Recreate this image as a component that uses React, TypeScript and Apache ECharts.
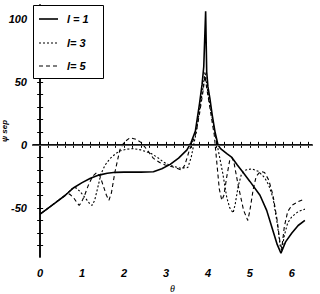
import React, { useEffect, useRef } from "react";
import * as echarts from "echarts";

// l = 1 (solid)
const thetaL1 = [0, 0.2, 0.4, 0.6, 0.8, 1.0, 1.2, 1.4, 1.6, 1.8, 2.0, 2.4, 2.7, 2.9, 3.1, 3.3, 3.5, 3.6, 3.7, 3.8, 3.86, 3.9, 3.945, 3.97, 4.0, 4.05, 4.1, 4.17, 4.24, 4.3, 4.45, 4.57, 4.7, 4.83, 5.0, 5.24, 5.4, 5.52, 5.65, 5.74, 5.85, 6.0, 6.15, 6.31];
const psiL1 = [-55, -50, -45, -40, -34, -30, -26.5, -24, -22.5, -21.8, -21.6, -21.6, -21.4, -19, -15.5, -10.5, -4, 2, 11, 33, 48, 62, 106, 58, 46, 36, 24, 10, 0, -3, -7, -10, -16, -21.6, -29, -40, -52, -65, -79, -86, -77, -70, -64, -60];

// l = 3 (dotted)
const thetaL3 = [0, 0.2, 0.4, 0.6, 0.75, 0.85, 0.95, 1.05, 1.12, 1.2, 1.24, 1.3, 1.38, 1.45, 1.55, 1.67, 1.8, 1.9, 2.05, 2.22, 2.4, 2.62, 2.8, 2.94, 3.05, 3.17, 3.35, 3.52, 3.6, 3.66, 3.72, 3.8, 3.88, 3.93, 3.97, 4.03, 4.1, 4.17, 4.25, 4.35, 4.45, 4.52, 4.6, 4.65, 4.72, 4.8, 4.9, 5.05, 5.2, 5.35, 5.45, 5.55, 5.65, 5.72, 5.76, 5.82, 5.9, 6.0, 6.15, 6.31];
const psiL3 = [-55, -50, -45, -40, -35, -34, -37, -41, -44, -47.5, -48, -44, -33, -23, -16, -10.7, -7, -4.8, -3.5, -3, -4, -6.4, -10, -13.6, -15.5, -17, -18.5, -18, -10, 0, 10, 28, 45, 58, 48, 35, 22, 8, -5, -22, -42, -50, -54, -47, -33, -23, -20, -19, -21, -26, -32, -42, -62, -80, -84, -72, -62, -57, -53, -51];

// l = 5 (dashed)
const thetaL5 = [0, 0.2, 0.4, 0.6, 0.7, 0.8, 0.88, 0.93, 0.98, 1.06, 1.15, 1.25, 1.35, 1.43, 1.5, 1.58, 1.64, 1.7, 1.78, 1.9, 2.0, 2.14, 2.28, 2.42, 2.55, 2.7, 2.85, 2.98, 3.1, 3.21, 3.37, 3.45, 3.55, 3.63, 3.72, 3.8, 3.88, 3.93, 3.97, 4.03, 4.1, 4.15, 4.2, 4.27, 4.33, 4.38, 4.45, 4.52, 4.57, 4.62, 4.72, 4.85, 4.95, 5.0, 5.08, 5.15, 5.25, 5.35, 5.45, 5.55, 5.65, 5.72, 5.76, 5.82, 5.9, 6.0, 6.15, 6.31];
const psiL5 = [-55, -50, -45, -40, -39, -42, -46, -48, -46, -40, -32, -25, -22, -25, -32, -40, -44, -38, -22, -4, 2, 5.6, 4.5, 1.6, -4, -10.7, -14, -16, -17, -18, -20, -16, -5, 2, 10, 25, 42, 55, 45, 33, 18, 8, -10, -35, -44, -40, -25, -12, -10, -14, -32, -52, -60, -52, -35, -25, -21, -22, -28, -40, -60, -78, -82, -65, -53, -48, -45, -43];

const xLabels = [0, 1, 2, 3, 4, 5, 6];
const yLabels = [-50, 0, 50, 100];
const seriesNames = ["l = 1", "l= 3", "l= 5"];

const pairs = (xs: number[], ys: number[]) => xs.map((x, i) => [x, ys[i]]);

export default function App() {
  const ref = useRef<HTMLDivElement>(null);
  useEffect(() => {
    document.body.style.margin = "0";
    const chart = echarts.init(ref.current!, null, { renderer: "svg" });
    const xTicks: number[] = [];
    for (let i = 0; i <= 32; i++) xTicks.push(Math.round(i * 0.2 * 10) / 10);
    const yTicks: number[] = [];
    for (let v = -80; v <= 110; v += 10) yTicks.push(v);
    const font = { fontFamily: "Liberation Sans", fontStyle: "italic" as const, fontWeight: "bold" as const, color: "#000" };
    const axisLine = { show: true, lineStyle: { color: "#000", width: 1.5 } };
    const xMin = -0.17, xMax = 6.48, yMin = -89, yMax = 111;
    const styles = [
      { width: 1.6, type: "solid" as any },
      { width: 1.1, type: [2, 2] as any },
      { width: 1.1, type: [4, 3] as any },
    ];
    const legendRows = [19, 43, 66];
    const legendGraphics: any[] = [
      { type: "rect", shape: { x: 33.5, y: 5.5, width: 70, height: 73 }, style: { fill: "#fff", stroke: "#000", lineWidth: 1 }, z: 10 },
    ];
    seriesNames.forEach((n, i) => {
      legendGraphics.push({
        type: "line", shape: { x1: 39, y1: legendRows[i], x2: 58, y2: legendRows[i] },
        style: { stroke: "#000", lineWidth: styles[i].width, lineDash: styles[i].type === "solid" ? null : styles[i].type }, z: 11,
      });
      legendGraphics.push({
        type: "text", x: 67, y: legendRows[i], z: 11,
        style: { text: n, fill: "#000", font: "italic bold 11px 'Liberation Sans'", textVerticalAlign: "middle", verticalAlign: "middle" },
      });
    });
    chart.setOption({
      animation: false,
      grid: { left: 33, right: 8, top: 5, bottom: 37, containLabel: false, outerBoundsMode: "none" },
      graphic: legendGraphics,
      xAxis: [
        {
          type: "value", min: xMin, max: xMax, position: "bottom",
          axisLine, splitLine: { show: false },
          axisTick: { inside: true, length: 3, customValues: xTicks, lineStyle: { color: "#000" } },
          axisLabel: { customValues: xLabels, ...font, fontSize: 11, margin: 10 },
          name: "θ", nameLocation: "middle", nameGap: 26, nameMoveOverlap: false,
          nameTextStyle: { fontFamily: "Liberation Serif", fontStyle: "italic", fontSize: 10, color: "#000" },
        },
        {
          type: "value", min: xMin, max: xMax, position: "top",
          axisLine, splitLine: { show: false },
          axisTick: { inside: true, length: 3, customValues: xTicks, lineStyle: { color: "#000" } },
          axisLabel: { show: false },
        },
      ],
      yAxis: [
        {
          type: "value", min: yMin, max: yMax, position: "left",
          axisLine, splitLine: { show: false },
          axisTick: { inside: true, length: 3, customValues: yTicks, lineStyle: { color: "#000" } },
          axisLabel: { customValues: yLabels, ...font, fontSize: 11, margin: 6 },
          name: "ψ sep", nameLocation: "middle", nameGap: 25, nameRotate: 90, nameMoveOverlap: false,
          nameTextStyle: { fontFamily: "Liberation Sans", fontStyle: "italic", fontWeight: "bold", fontSize: 8, color: "#000" },
        },
        {
          type: "value", min: yMin, max: yMax, position: "right",
          axisLine, splitLine: { show: false },
          axisTick: { inside: true, length: 3, customValues: yTicks, lineStyle: { color: "#000" } },
          axisLabel: { show: false },
        },
      ],
      series: [
        {
          name: seriesNames[0], type: "line", data: pairs(thetaL1, psiL1), showSymbol: false, symbol: "none",
          lineStyle: { color: "#000", width: styles[0].width }, z: 3,
          markLine: {
            silent: true, symbol: "none", label: { show: false },
            lineStyle: { color: "#555", width: 1, type: "solid" },
            data: [{ yAxis: 0 }],
          },
        },
        {
          name: seriesNames[1], type: "line", data: pairs(thetaL3, psiL3), showSymbol: false, symbol: "none",
          lineStyle: { color: "#000", width: styles[1].width, type: styles[1].type },
        },
        {
          name: seriesNames[2], type: "line", data: pairs(thetaL5, psiL5), showSymbol: false, symbol: "none",
          lineStyle: { color: "#000", width: styles[2].width, type: styles[2].type },
        },
      ],
    });
    return () => chart.dispose();
  }, []);
  return <div ref={ref} style={{ width: 320, height: 294, position: "absolute", left: 0, top: 0 }} />;
}
